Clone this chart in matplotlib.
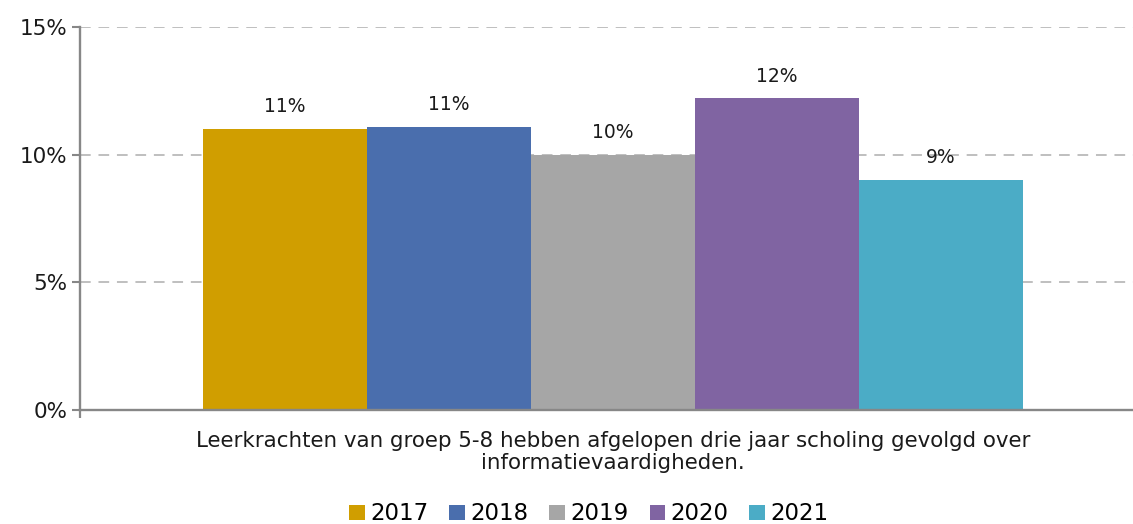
import matplotlib
matplotlib.use("Agg")
import matplotlib.pyplot as plt
from matplotlib.patches import Patch

plt.rcParams['font.family'] = ['DejaVu Sans']

years = ["2017", "2018", "2019", "2020", "2021"]
values = [11.0, 11.1, 10.0, 12.2, 9.0]
labels = ["11%", "11%", "10%", "12%", "9%"]
colors = ["#D09E00", "#4A6EAD", "#A6A6A6", "#8064A2", "#4BACC6"]
category = "Leerkrachten van groep 5-8 hebben afgelopen drie jaar scholing gevolgd over\ninformatievaardigheden."
yticks = [0, 5, 10, 15]
ytick_labels = ["0%", "5%", "10%", "15%"]

W, H = 1133, 524
fig = plt.figure(figsize=(W / 100, H / 100), dpi=100)
ax = fig.add_axes([80 / W, 1 - 410 / H, (1133 - 80) / W, (410 - 27) / H])

xs = list(range(len(years)))
ax.bar(xs, values, width=1.0, color=colors, zorder=2)
for x, v, lab in zip(xs, values, labels):
    ax.text(x, v + 0.5, lab, ha="center", va="bottom", fontsize=13.5, color="#1a1a1a")

xmin, xmax = -1.25, 5.17
ax.set_xlim(xmin, xmax)
ax.set_ylim(0, 15)
ax.set_yticks(yticks)
ax.set_yticklabels(ytick_labels, fontsize=15.5, color="#1a1a1a")
ax.yaxis.grid(True, linestyle=(0, (5.5, 4)), color="#BFBFBF", linewidth=1.4, zorder=0)
ax.set_axisbelow(True)

ax.set_xticks([2])
ax.set_xticklabels([category], fontsize=15.4, color="#1a1a1a", linespacing=1.12)
ax.tick_params(axis="x", which="major", length=0, pad=15)
ax.set_xticks([xmin], minor=True)
ax.tick_params(axis="x", which="minor", length=6, width=1.6, color="#878787")
ax.tick_params(axis="y", length=6, width=1.5, color="#878787", pad=3)

for s in ["top", "right"]:
    ax.spines[s].set_visible(False)
ax.spines["left"].set_color("#878787")
ax.spines["left"].set_linewidth(1.7)
ax.spines["bottom"].set_color("#878787")
ax.spines["bottom"].set_linewidth(1.7)

handles = [Patch(facecolor=c, edgecolor="none") for c in colors]
fig.legend(handles, years, loc="center", bbox_to_anchor=(589 / W, 1 - 514 / H),
           ncol=5, frameon=False, fontsize=16.5, handlelength=0.68, handleheight=0.68,
           handletextpad=0.25, columnspacing=0.9, borderaxespad=0)

fig.savefig("out.png", dpi=100)
